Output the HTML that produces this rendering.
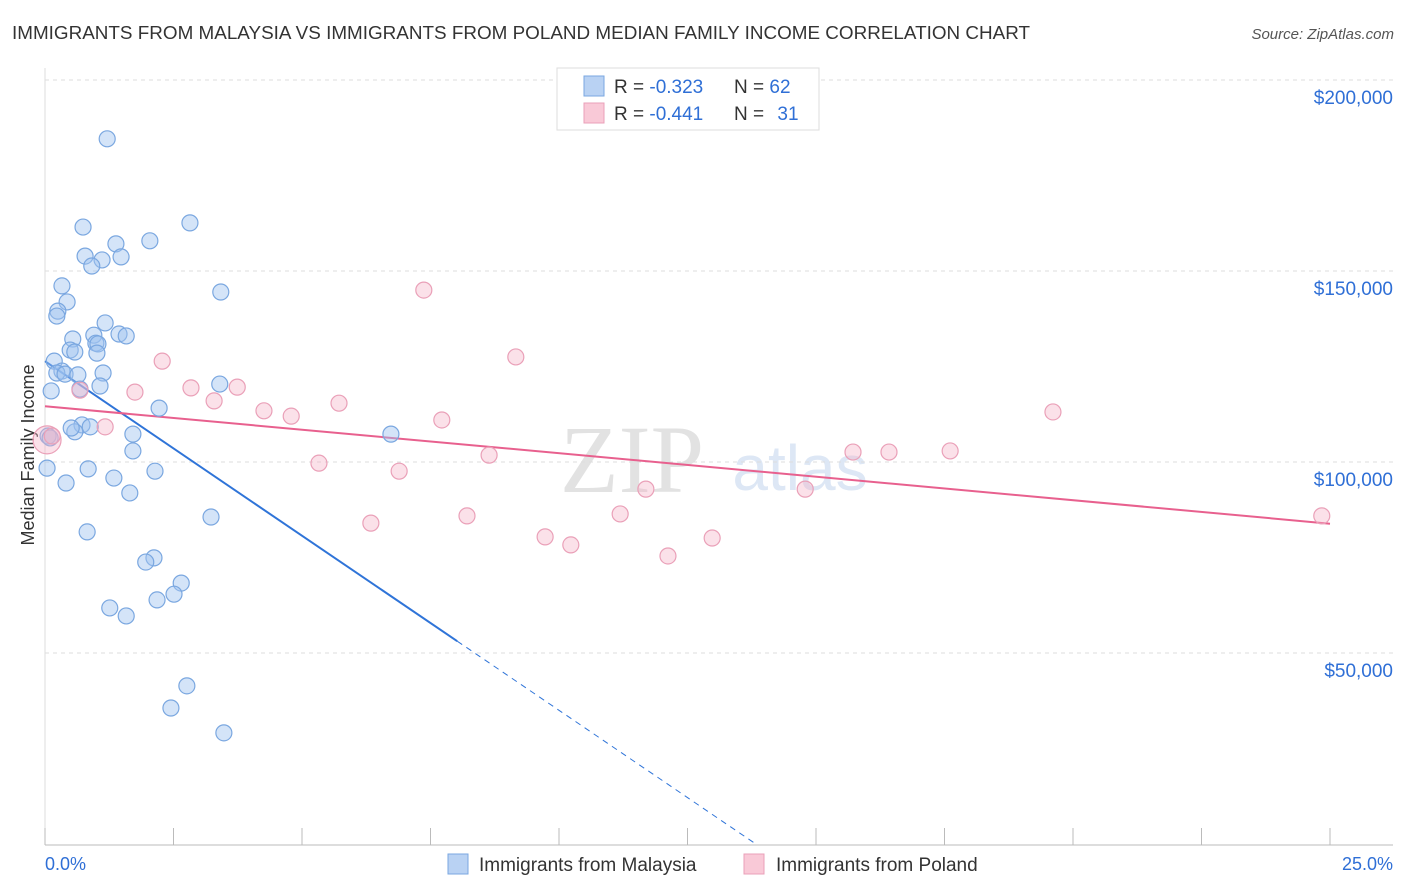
<!DOCTYPE html>
<html><head><meta charset="utf-8"><style>
body{margin:0;background:#fff;font-family:"Liberation Sans",sans-serif;}
svg{display:block}
</style></head><body>
<svg id="chart" width="1406" height="892">
<text x="12" y="39" font-size="18" fill="#333" textLength="1018" lengthAdjust="spacingAndGlyphs">IMMIGRANTS FROM MALAYSIA VS IMMIGRANTS FROM POLAND MEDIAN FAMILY INCOME CORRELATION CHART</text>
<text x="1394" y="39" font-size="15" fill="#555" font-style="italic" text-anchor="end">Source: ZipAtlas.com</text>
<text x="632" y="492" font-size="96" fill="#e2e2e2" font-family="Liberation Serif" text-anchor="middle">ZIP</text>
<text x="800" y="490" font-size="64" fill="#dde7f5" text-anchor="middle">atlas</text>
<text x="34" y="455" font-size="18" fill="#333" transform="rotate(-90 34 455)" text-anchor="middle">Median Family Income</text>
<g id="grid"></g><g id="ticks"></g><g id="lines"></g><g id="pts"></g>
<g>
<rect x="557" y="68" width="262" height="62" fill="#fff" stroke="#ddd"/>
<rect x="584" y="76" width="20" height="20" fill="#b9d2f3" stroke="#7aa7e0"/>
<rect x="584" y="103" width="20" height="20" fill="#f9c9d7" stroke="#eaa0b8"/>
<text x="614" y="93" font-size="19" fill="#333">R = <tspan fill="#2f6fd6">-0.323</tspan></text>
<text x="734" y="93" font-size="19" fill="#333">N = <tspan fill="#2f6fd6">62</tspan></text>
<text x="614" y="120" font-size="19" fill="#333">R = <tspan fill="#2f6fd6">-0.441</tspan></text>
<text x="734" y="120" font-size="19" fill="#333">N = <tspan fill="#2f6fd6" dx="8">31</tspan></text>
</g>
<g>
<rect x="448" y="854" width="20" height="20" fill="#b9d2f3" stroke="#7aa7e0"/>
<text x="479" y="871" font-size="19" fill="#333">Immigrants from Malaysia</text>
<rect x="744" y="854" width="20" height="20" fill="#f9c9d7" stroke="#eaa0b8"/>
<text x="776" y="871" font-size="19" fill="#333">Immigrants from Poland</text>
</g>
<text x="45" y="870" font-size="18" fill="#2f6fd6">0.0%</text>
<text x="1393" y="870" font-size="18" fill="#2f6fd6" text-anchor="end">25.0%</text>
</svg>
<script>
const yTicks=[50,100,150,200];
const yTickLabels=["$50,000","$100,000","$150,000","$200,000"];
const xTicks=[0,2.5,5,7.5,10,12.5,15,17.5,20,22.5,25];
const malaysiaX=[1.21,0.74,2.82,2.04,1.38,0.78,1.11,1.48,0.91,3.42,0.33,0.43,0.25,0.23,1.17,0.95,1.44,1.58,0.54,0.99,1.03,0.49,0.58,1.01,0.18,0.33,0.23,0.39,0.64,1.13,1.07,3.40,0.12,0.68,2.22,0.72,0.88,0.58,0.51,1.71,0.06,0.10,6.73,1.71,2.14,0.84,0.04,1.34,0.41,1.65,3.23,0.82,2.12,1.96,2.65,2.51,2.18,1.26,1.58,2.76,2.45,3.48];
const malaysiaY=[184.6,161.5,162.6,157.9,157.1,153.9,152.9,153.7,151.3,144.5,146.1,141.9,139.5,138.2,136.4,133.2,133.5,133.0,132.2,131.1,130.9,129.3,128.8,128.5,126.4,123.8,123.3,123.0,122.8,123.3,119.9,120.4,118.6,119.1,114.1,109.7,109.2,107.9,108.9,107.3,106.8,106.3,107.3,102.9,97.6,98.2,98.4,95.8,94.5,91.9,85.6,81.7,74.9,73.8,68.3,65.4,63.9,61.8,59.7,41.4,35.6,29.1];
const polandX=[0.04,0.14,0.68,2.28,1.75,2.84,3.29,3.74,4.26,4.79,5.72,7.37,9.16,7.72,1.17,5.33,6.89,6.34,8.21,8.64,9.73,10.23,11.19,11.69,12.12,12.98,14.79,15.72,16.42,17.61,19.61,24.84];
const polandY=[105.8,106.8,118.8,126.4,118.3,119.4,116.0,119.6,113.4,112.0,115.4,145.0,127.5,111.0,109.2,99.7,97.6,84.0,85.9,101.8,80.4,78.3,86.4,92.9,75.4,80.1,92.9,102.6,102.6,102.9,113.1,85.9];
const malaysiaTrend=[126.4,-9.14];
const polandTrend=[114.6,-1.23];
const NS="http://www.w3.org/2000/svg";
const X=v=>45+v/25*1285, Y=v=>844-v*191/50;
function mk(t,a,p){const e=document.createElementNS(NS,t);for(const k in a)e.setAttribute(k,a[k]);p.appendChild(e);return e;}
const grid=document.getElementById('grid'),ticks=document.getElementById('ticks'),lines=document.getElementById('lines'),pts=document.getElementById('pts');
yTicks.forEach((v,i)=>{
 const l=mk('line',{x1:45,x2:1393,y1:Y(v),y2:Y(v),stroke:'#ddd','stroke-dasharray':'4 4'},grid);
 
 
 const t=mk('text',{x:1393,y:Y(v)+24,'font-size':19,fill:'#2f6fd6','text-anchor':'end'},grid);
 t.textContent=yTickLabels[i];
 
 
});
const ax=mk('line',{x1:45,x2:1393,y1:845,y2:845,stroke:'#bbb'},ticks);


const ay=mk('line',{x1:45,x2:45,y1:68,y2:845,stroke:'#ddd'},ticks);


xTicks.forEach(v=>{
 const l=mk('line',{x1:X(v),x2:X(v),y1:828,y2:845,stroke:'#bbb'},ticks);
 
 
});
const bEnd=8.02;
const b1=mk('line',{x1:X(0),y1:Y(malaysiaTrend[0]),x2:X(bEnd),y2:Y(malaysiaTrend[0]+malaysiaTrend[1]*bEnd),stroke:'#2f74d8','stroke-width':2},lines);


const bZero=-malaysiaTrend[0]/malaysiaTrend[1];
const b2=mk('line',{x1:X(bEnd),y1:Y(malaysiaTrend[0]+malaysiaTrend[1]*bEnd),x2:X(bZero),y2:Y(0),stroke:'#2f74d8','stroke-width':1,'stroke-dasharray':'6 5'},lines);


const p1=mk('line',{x1:X(0),y1:Y(polandTrend[0]),x2:X(25),y2:Y(polandTrend[0]+polandTrend[1]*25),stroke:'#e8608e','stroke-width':2},lines);


malaysiaX.forEach((x,i)=>{
 const c=mk('circle',{cx:X(x),cy:Y(malaysiaY[i]),r:8,fill:'rgba(160,195,240,0.45)',stroke:'#7aa7e0','stroke-width':1.2},pts);
 
 
});
polandX.forEach((x,i)=>{
 const c=mk('circle',{cx:X(x),cy:Y(polandY[i]),r:i==0?14:8,fill:'rgba(245,180,200,0.4)',stroke:'#eaa0b8','stroke-width':1.2},pts);
 
 
});
</script>
</body></html>
